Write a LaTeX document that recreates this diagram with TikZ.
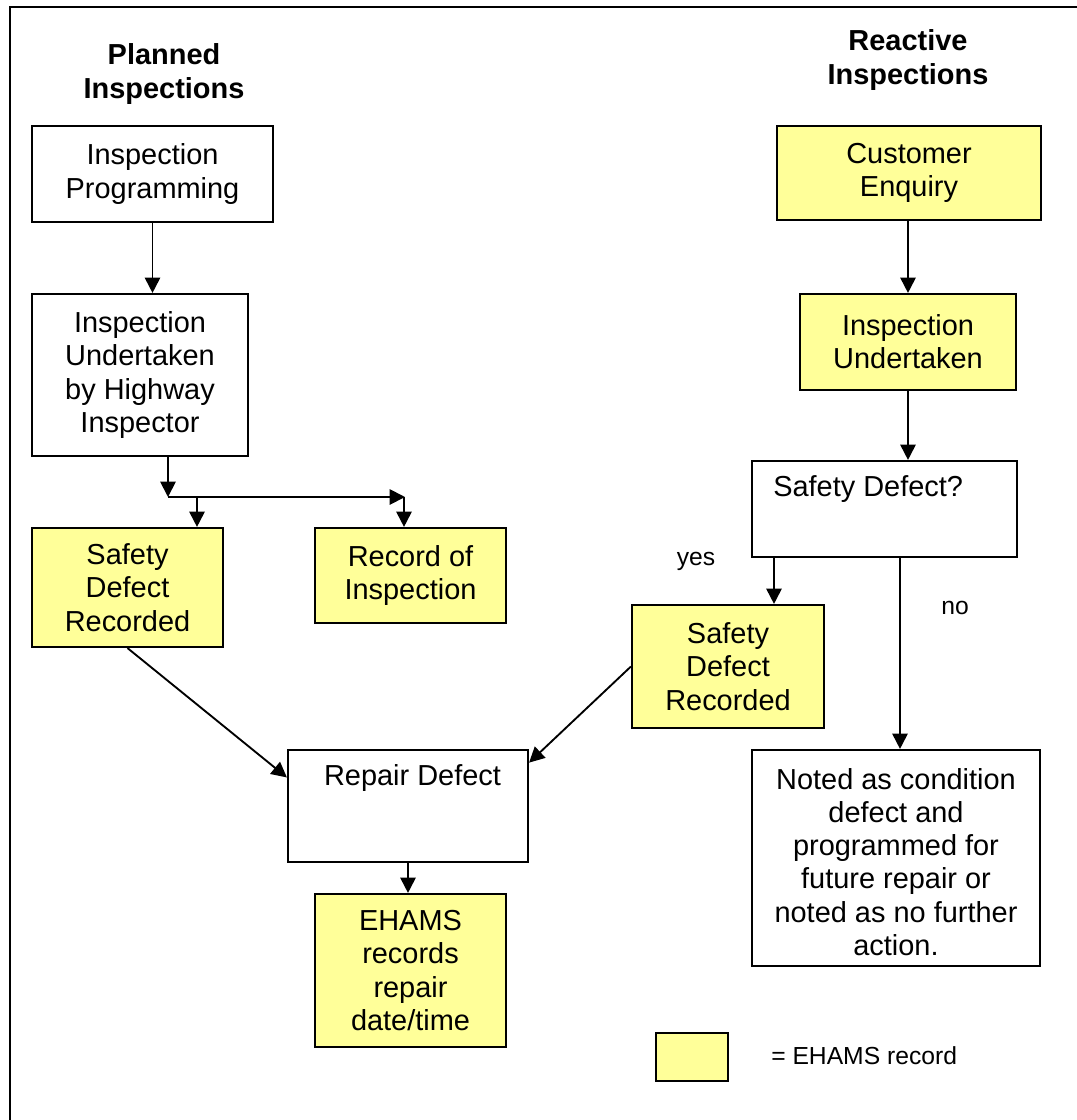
\documentclass[tikz,border=0pt]{standalone}
\usepackage{fontspec}
\setmainfont{Liberation Sans}
\usetikzlibrary{calc,arrows.meta}
\definecolor{ehams}{HTML}{FFFF99}
\tikzset{
  box/.style={draw=black, line width=1.6pt, fill=white, inner sep=0pt, align=center,
    font=\fontsize{21.7}{24.9}\selectfont},
  ybox/.style={box, fill=ehams},
  arr/.style={line width=1.4pt, -{Triangle[length=11.5pt,width=11.5pt]}},
  head/.style={align=center, font=\bfseries\fontsize{21.7}{24.9}\selectfont},
  lbl/.style={font=\fontsize{18.5}{22}\selectfont, inner sep=0pt},
  txt/.style={font=\fontsize{21.7}{24.9}\selectfont, inner sep=0pt}
}
\begin{document}
\begin{tikzpicture}[x=0.75pt,y=-0.75pt]
\useasboundingbox (0,0) rectangle (1077,1120);
% outer frame (left and top edges)
\draw[line width=2pt] (10,1125) -- (10,7) -- (1082,7);

% headings
\node[head] (hp) at (164,74) {Planned\\Inspections};
\node[head] (hr) at (908,60) {Reactive\\Inspections};

% planned side
\node[box, minimum width=241*0.75pt, minimum height=96*0.75pt] (ip) at (152.5,174) {Inspection\\Programming};
\node[box, minimum width=216*0.75pt, minimum height=162*0.75pt] (iu) at (140,375) {Inspection\\Undertaken\\by Highway\\Inspector};
\node[ybox, minimum width=191*0.75pt, minimum height=119*0.75pt] (sdl) at (127.5,587.5) {Safety\\Defect\\Recorded};
\node[ybox, minimum width=191*0.75pt, minimum height=95*0.75pt] (roi) at (410.5,575.5) {Record of\\Inspection};
\node[box, minimum width=240*0.75pt, minimum height=112*0.75pt] (rd) at (408,806) {};
\node[txt] (rdt) at (412.5,778) {Repair Defect};
\node[ybox, minimum width=191*0.75pt, minimum height=153*0.75pt] (eh) at (410.5,970.5) {EHAMS\\records\\repair\\date/time};

% reactive side
\node[ybox, minimum width=264*0.75pt, minimum height=94*0.75pt] (ce) at (909,173) {Customer\\Enquiry};
\node[ybox, minimum width=216*0.75pt, minimum height=96*0.75pt] (iur) at (908,342) {Inspection\\Undertaken};
\node[box, minimum width=265*0.75pt, minimum height=96*0.75pt] (sdq) at (884.5,509) {};
\node[txt, anchor=west] (sdqt) at (773,489) {Safety Defect?};
\node[ybox, minimum width=192*0.75pt, minimum height=123*0.75pt] (sdr) at (728,666.5) {Safety\\Defect\\Recorded};
\node[box, minimum width=288*0.75pt, minimum height=216*0.75pt] (nt) at (896,858) {};
\begin{scope}
\clip (752,750) rectangle (1040,957);
\node[box, draw=none, fill=none] (ntt) at (896,862) {Noted as condition\\defect and\\programmed for\\future repair or\\noted as no further\\action.};
\end{scope}

% legend
\node[ybox, line width=1.3pt, minimum width=72*0.75pt, minimum height=48*0.75pt] (leg) at (692,1057) {};
\node[lbl, anchor=west] (legt) at (771,1056) {= EHAMS record};

% labels
\node[lbl] (yes) at (696,561) {yes};
\node[lbl] (no) at (955,608) {no};

% connectors
\coordinate (j1) at (168,497);
\coordinate (j2) at (405,497);
\coordinate (xa) at (197,497);
\coordinate (xb) at (404,497);
\coordinate (xy) at (774,0);

\draw[arr] (ip.south) -- (iu.north -| ip.south);
\draw[arr] (iu.south -| j1) -- (j1);
\draw[arr] (j1) -- (j2);
\draw[arr] (xa) -- (sdl.north -| xa);
\draw[arr] (xb) -- (roi.north -| xb);

\draw[arr] (sdl.south) -- ($(rd.north west)!0.25!(rd.south west)$);
\draw[arr] (sdr.west) -- ($(rd.north east)!0.12!(rd.south east)$);
\draw[arr] (rd.south) -- (eh.north -| rd.south);

\draw[arr] (ce.south -| iur.north) -- (iur.north);
\draw[arr] (iur.south) -- (sdq.north -| iur.south);
\draw[arr] (sdq.south -| xy) -- (sdr.north -| xy);
\draw[arr] (sdq.south -| nt.north) ++(4,0) -- (nt.north -| 900,0);
\end{tikzpicture}
\end{document}
